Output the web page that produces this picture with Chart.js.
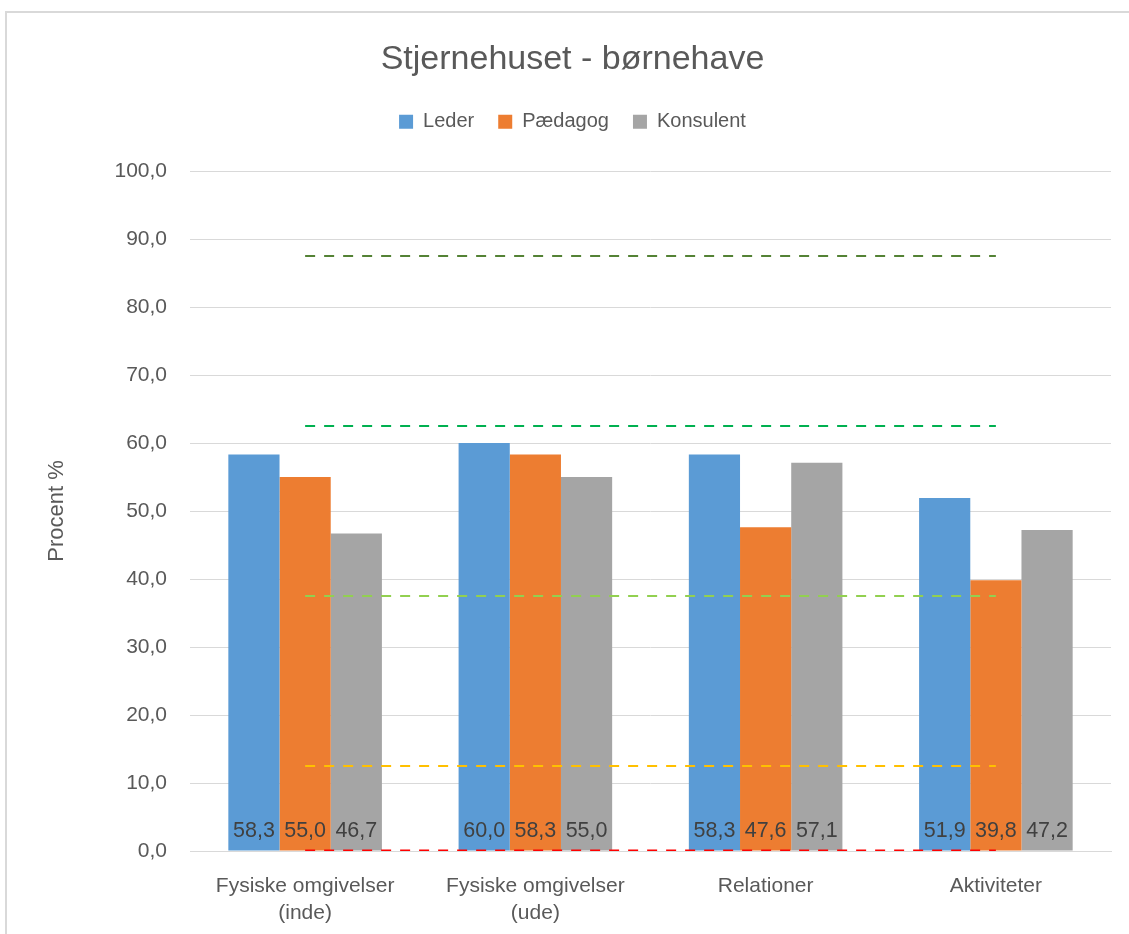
<!DOCTYPE html>
<html>
<head>
<meta charset="utf-8">
<script src="https://cdn.jsdelivr.net/npm/chart.js@4"></script>
<style>
html,body{margin:0;padding:0;background:#fff;overflow:hidden;}
#frame{position:absolute;left:5px;top:11px;width:1300px;height:1100px;border-left:2px solid #d9d9d9;border-top:2px solid #d9d9d9;box-sizing:border-box;pointer-events:none;}
#wrap{position:absolute;left:0;top:0;width:1129px;height:934px;}
</style>
</head>
<body>
<div id="frame"></div>
<div id="wrap"><canvas id="c" width="1129" height="934"></canvas></div>
<script>
const categories = [["Fysiske omgivelser","(inde)"],["Fysiske omgivelser","(ude)"],["Relationer"],["Aktiviteter"]];
const seriesNames = ["Leder","Pædagog","Konsulent"];
const leder = [58.3, 60.0, 58.3, 51.9];
const paedagog = [55.0, 58.3, 47.6, 39.8];
const konsulent = [46.7, 55.0, 57.1, 47.2];
const thresholds = [87.5, 62.5, 37.5, 12.5, 0];
const thresholdColors = ["#548235", "#00B050", "#92D050", "#FFC000", "#FF0000"];
const yTicks = [0,10,20,30,40,50,60,70,80,90,100];

const barColors = ["#5B9BD5", "#ED7D31", "#A5A5A5"];
const FONT = "'Liberation Sans', Arial, sans-serif";
const fmt = v => v.toFixed(1).replace('.', ',');

const datasets = [];
thresholds.forEach((t, i) => {
  datasets.push({
    type: 'line',
    label: 'thr' + i,
    data: categories.map(() => t),
    borderColor: thresholdColors[i],
    borderWidth: i === 4 ? 3 : 2.2,
    borderDash: [10, 9],
    pointRadius: 0,
    fill: false,
    order: 0
  });
});
[leder, paedagog, konsulent].forEach((arr, i) => {
  datasets.push({
    type: 'bar',
    label: seriesNames[i],
    data: arr,
    backgroundColor: barColors[i],
    borderWidth: 0,
    barPercentage: 1.0,
    categoryPercentage: 0.667,
    order: 1
  });
});

const labelPlugin = {
  id: 'barLabels',
  afterDatasetsDraw(chart) {
    const ctx = chart.ctx;
    ctx.save();
    ctx.font = "21.5px " + FONT;
    ctx.fillStyle = "#404040";
    ctx.textAlign = 'center';
    ctx.textBaseline = 'middle';
    chart.data.datasets.forEach((ds, di) => {
      if (ds.type !== 'bar') return;
      const meta = chart.getDatasetMeta(di);
      meta.data.forEach((el, j) => {
        ctx.fillText(fmt(ds.data[j]), el.x, chart.chartArea.bottom - 20);
      });
    });
    ctx.restore();
  }
};

new Chart(document.getElementById('c'), {
  type: 'bar',
  data: { labels: categories, datasets },
  plugins: [labelPlugin],
  options: {
    responsive: false,
    animation: false,
    devicePixelRatio: 1,
    layout: { padding: { left: 34, right: 18, top: 0, bottom: 0 } },
    plugins: {
      title: {
        display: true,
        text: "Stjernehuset - børnehave",
        color: "#595959",
        font: { family: FONT, size: 34, weight: 'normal' },
        padding: { top: 39, bottom: 8 }
      },
      subtitle: {
        display: true,
        text: " ",
        weight: 500,
        font: { size: 1 },
        padding: { top: 14, bottom: 14 }
      },
      legend: {
        display: true,
        labels: {
          color: "#595959",
          font: { family: FONT, size: 20 },
          boxWidth: 14,
          boxHeight: 14,
          padding: 24,
          filter: item => !item.text.startsWith('thr')
        }
      },
      tooltip: { enabled: false }
    },
    scales: {
      x: {
        grid: { display: false, drawTicks: false },
        border: { display: true, color: "#d9d9d9", width: 1 },
        ticks: { color: "#595959", font: { family: FONT, size: 21, lineHeight: 1.29 }, padding: 22, maxRotation: 0 },
        afterFit(s) { s.height = 83; }
      },
      y: {
        min: 0, max: 100,
        afterBuildTicks(s) { s.ticks = yTicks.map(v => ({ value: v })); },
        grid: { color: "#d9d9d9", lineWidth: 1, drawTicks: false },
        border: { display: false },
        ticks: { color: "#595959", font: { family: FONT, size: 21 }, padding: 23, callback: v => fmt(v) },
        title: { display: true, text: "Procent %", color: "#595959", font: { family: FONT, size: 22 }, padding: { top: 10, bottom: 0 } },
        afterFit(s) { s.width = 156; }
      }
    }
  }
});
</script>
</body>
</html>
